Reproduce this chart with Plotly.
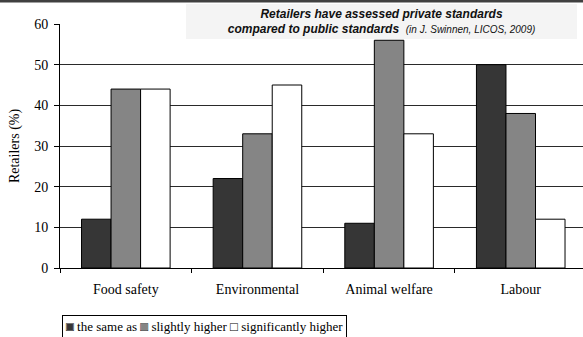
import plotly.graph_objects as go

# Survey results: share of retailers rating private standards vs public standards
categories = ["Food safety", "Environmental", "Animal welfare", "Labour"]
same_as = [12, 22, 11, 50]
slightly_higher = [44, 33, 56, 38]
significantly_higher = [44, 45, 33, 12]

series_names = ["the same as", "slightly higher", "significantly higher"]
series_values = [same_as, slightly_higher, significantly_higher]
series_colors = ["#363636", "#858585", "#ffffff"]

y_ticks = [0, 10, 20, 30, 40, 50, 60]

W, H = 583, 337
ML, MR, MT, MB = 60, 0, 24, 69
plot_w = W - ML - MR
plot_h = H - MT - MB

serif = "Times New Roman, Liberation Serif, serif"
sans = "Arial, Liberation Sans, sans-serif"
fs = 14

fig = go.Figure()
for name, vals, col in zip(series_names, series_values, series_colors):
    fig.add_trace(go.Bar(
        x=categories, y=vals, name=name,
        marker=dict(color=col, line=dict(color="#000000", width=1)),
        showlegend=False,
    ))


def px_x(p):
    return (p - ML) / plot_w


def px_y(p):
    return (H - MB - p) / plot_h


# thin dark rule along the top edge
fig.add_shape(type="rect", xref="paper", yref="paper",
              x0=px_x(0), x1=px_x(W), y0=px_y(2.6), y1=px_y(0),
              fillcolor="#404040", line=dict(width=0), layer="above")

# title panel
title_text = ("<b><i>Retailers have assessed private standards</i></b><br>"
              "<b><i>compared to public standards</i></b>  "
              "<i><span style=\"font-size:10px\">(in J. Swinnen, LICOS, 2009)</span></i>")
fig.add_annotation(
    text=title_text, xref="paper", yref="paper",
    x=px_x(186), y=px_y(4), xanchor="left", yanchor="top",
    width=391, height=35, align="center", valign="middle",
    bgcolor="#f4f4f4", borderpad=0, borderwidth=0, showarrow=False,
    font=dict(family=sans, size=12, color="#111111"),
)

# legend row: coloured squares first, black outlines drawn over them
hidden = "rgba(0,0,0,0)"
labels = [" the same as ", " slightly higher ", " significantly higher"]
legend_fill = "".join(
    "<span style=\"color:%s\">■</span>%s" % (c, lab)
    for c, lab in zip(series_colors, labels))
legend_outline = "".join(
    "□<span style=\"color:%s\">%s</span>" % (hidden, lab)
    for lab in labels)
for txt, bcol, bg in [
    (legend_fill, "#000000", "#ffffff"),
    (legend_outline, hidden, hidden),
]:
    fig.add_annotation(
        text=txt, xref="paper", yref="paper",
        x=px_x(62), y=px_y(315), xanchor="left", yanchor="top",
        align="left", showarrow=False, bgcolor=bg,
        bordercolor=bcol, borderwidth=1, borderpad=3,
        font=dict(family=serif, size=13, color="#000000"),
    )

fig.update_layout(
    width=W, height=H,
    margin=dict(l=ML, r=MR, t=MT, b=MB, pad=0),
    paper_bgcolor="#ffffff", plot_bgcolor="#ffffff",
    barmode="group", bargap=0.327, bargroupgap=0,
    font=dict(family=serif, size=fs, color="#000000"),
    showlegend=False,
)
fig.update_xaxes(
    type="category", range=[-0.5, 3.473],
    showgrid=False, zeroline=False,
    showline=True, linecolor="#000000", linewidth=1,
    ticks="outside", tickson="boundaries", ticklen=4, tickcolor="#000000",
    ticklabelstandoff=8,
    tickfont=dict(family=serif, size=fs, color="#000000"),
)
fig.update_yaxes(
    range=[0, 60], tickvals=y_ticks,
    showgrid=True, gridcolor="#2a2a2a", gridwidth=1, zeroline=False,
    showline=True, linecolor="#000000", linewidth=1,
    ticks="outside", ticklen=5, tickcolor="#000000",
    ticklabelstandoff=3,
    tickfont=dict(family=serif, size=fs, color="#000000"),
    title=dict(text="Retailers (%)", standoff=11,
               font=dict(family=serif, size=fs, color="#000000")),
)

fig.write_html("out.html")
